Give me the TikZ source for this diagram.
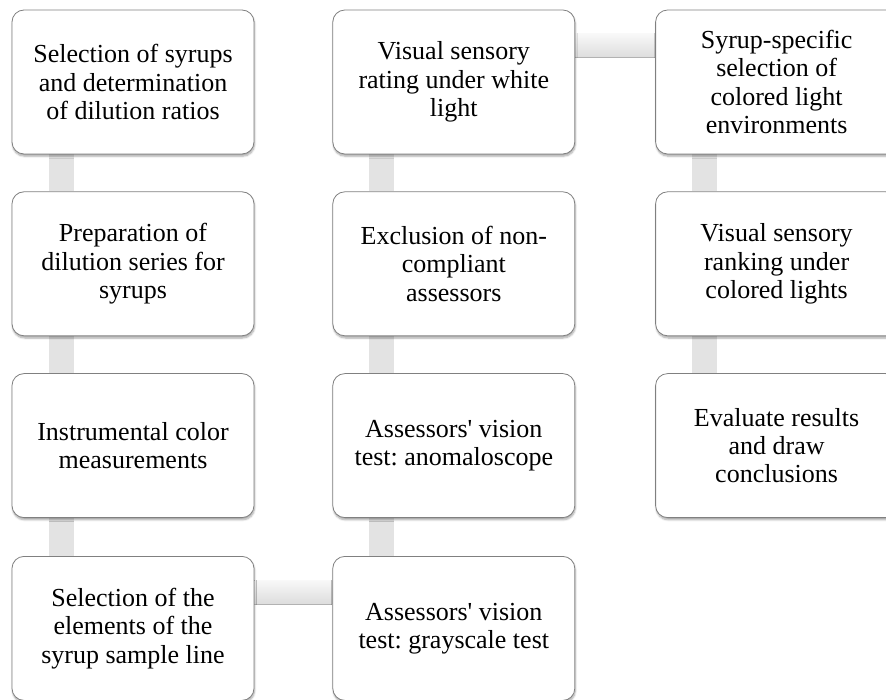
\documentclass[tikz,border=0pt]{standalone}
\usepackage{fontspec}
\setmainfont{Liberation Serif}
\usetikzlibrary{positioning,shadows.blur,backgrounds}
\frenchspacing

\begin{document}
\begin{tikzpicture}[x=1pt,y=1pt,node distance=37pt and 78pt]
  \tikzstyle{stepbox}=[draw=black!50,line width=0.8pt,fill=white,rounded corners=12pt,
    minimum width=242pt,minimum height=144pt,inner sep=0pt,align=center,
    font=\fontsize{26}{28.3}\selectfont,
    blur shadow={shadow xshift=0.6pt,shadow yshift=-2.2pt,shadow blur steps=6,shadow opacity=35}]
  \tikzstyle{vlink}=[fill=gray!22]
  \tikzstyle{hlink}=[top color=gray!5,bottom color=gray!27]
  \useasboundingbox (0,0) rectangle (886,-700);
  % first column
  \node[stepbox] (sel) at (133,-82) {Selection of syrups\\and determination\\of dilution ratios};
  \node[stepbox,below=of sel] (prep) {Preparation of\\dilution series for\\syrups};
  \node[stepbox,below=of prep] (instr) {Instrumental color\\measurements};
  \node[stepbox,below=38pt of instr] (elem) {Selection of the\\elements of the\\syrup sample line};
  % second column
  \node[stepbox,right=of elem] (grayt) {Assessors\textquotesingle\ vision\\test: grayscale test};
  \node[stepbox,right=of instr] (anom) {Assessors\textquotesingle\ vision\\test: anomaloscope};
  \node[stepbox,right=of prep] (excl) {Exclusion of non-\\compliant\\assessors};
  \node[stepbox,right=of sel] (white) {Visual sensory\\rating under white\\light};
  % third column
  \node[stepbox,right=80pt of white] (envsel) {Syrup-specific\\selection of\\colored light\\environments};
  \node[stepbox,below=of envsel] (rank) {Visual sensory\\ranking under\\colored lights};
  \node[stepbox,below=of rank] (eval) {Evaluate results\\and draw\\conclusions};
  % links
  \begin{pgfonlayer}{background}
    \foreach \a/\b in {sel/prep,prep/instr,instr/elem,white/excl,excl/anom,anom/grayt,envsel/rank,rank/eval}
      \fill[vlink] ([xshift=37pt]\a.south west) rectangle ([xshift=62pt]\b.north west);
    \foreach \a/\b in {elem/grayt,white/envsel}{
      \fill[hlink] ([yshift=-24pt]\a.north east) rectangle ([yshift=-48pt]\b.north west);
      \draw[gray!60,line width=0.8pt] ([yshift=-48pt]\a.north east) -- ([yshift=-48pt]\b.north west);
    }
  \end{pgfonlayer}
\end{tikzpicture}
\end{document}
